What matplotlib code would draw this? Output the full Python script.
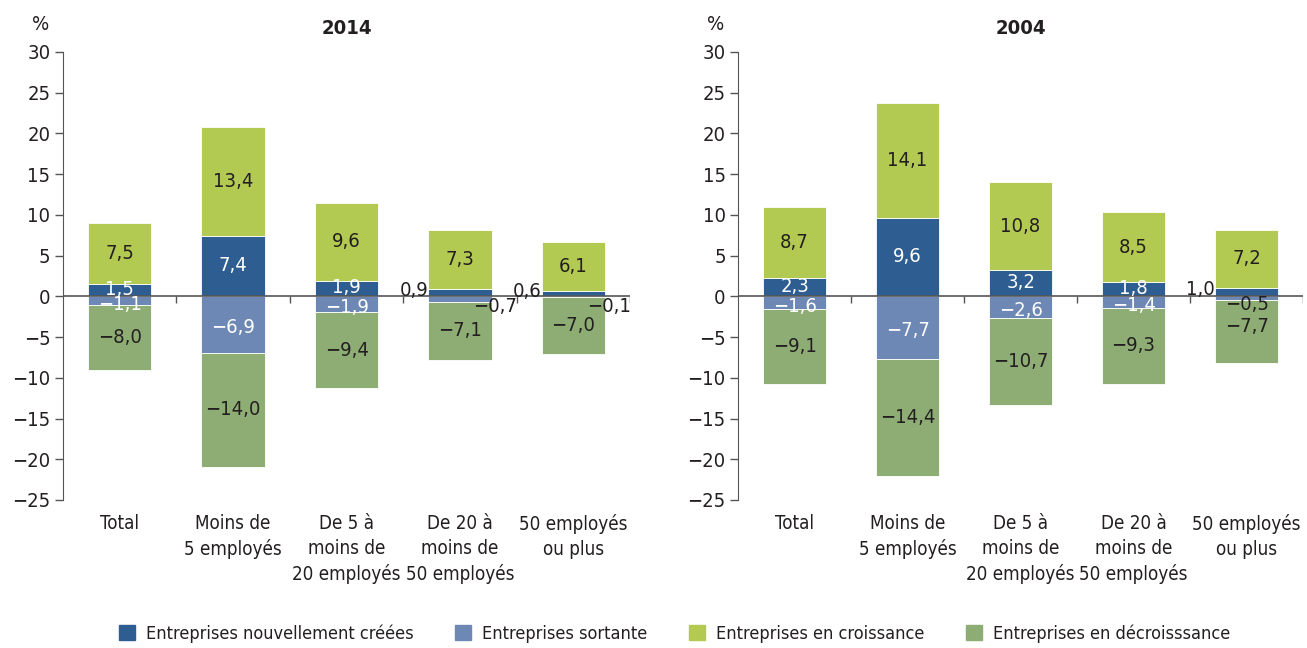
import matplotlib
matplotlib.use("Agg")
import matplotlib.pyplot as plt
import numpy as np
from matplotlib.patches import Patch

plt.rcParams["font.family"] = ["DejaVu Sans"]
plt.rcParams["font.stretch"] = "condensed"
plt.rcParams["axes.unicode_minus"] = True

categories = ["Total", "Moins de\n5 employés", "De 5 à\nmoins de\n20 employés",
              "De 20 à\nmoins de\n50 employés", "50 employés\nou plus"]
series_names = ["Entreprises nouvellement créées", "Entreprises sortante",
                "Entreprises en croissance", "Entreprises en décroisssance"]

new_2014 = [1.5, 7.4, 1.9, 0.9, 0.6]
exit_2014 = [-1.1, -6.9, -1.9, -0.7, -0.1]
grow_2014 = [7.5, 13.4, 9.6, 7.3, 6.1]
decl_2014 = [-8.0, -14.0, -9.4, -7.1, -7.0]

new_2004 = [2.3, 9.6, 3.2, 1.8, 1.0]
exit_2004 = [-1.6, -7.7, -2.6, -1.4, -0.5]
grow_2004 = [8.7, 14.1, 10.8, 8.5, 7.2]
decl_2004 = [-9.1, -14.4, -10.7, -9.3, -7.7]

colors = ["#2E5E91", "#6E88B5", "#B3CA52", "#8EAD74"]
text_col = "#231F20"
axis_col = "#555555"


def fmt(v):
    s = f"{v:.1f}".replace(".", ",")
    return s.replace("-", "\u2212")


def draw(ax, title, new, ext, grow, decl, small_exit_outside):
    x = np.arange(len(categories))
    w = 0.56
    new = np.array(new)
    ext = np.array(ext)
    grow = np.array(grow)
    decl = np.array(decl)
    kw = dict(width=w, edgecolor="white", linewidth=0.6, zorder=2)
    ax.bar(x, new, color=colors[0], **kw)
    ax.bar(x, grow, bottom=new, color=colors[2], **kw)
    ax.bar(x, ext, color=colors[1], **kw)
    ax.bar(x, decl, bottom=ext, color=colors[3], **kw)

    fs = 14.5
    for i in range(len(x)):
        # nouvelles entreprises
        if new[i] < 1.2:
            ax.text(x[i] - w / 2, new[i] / 2 + 0.3, fmt(new[i]), ha="right", va="center",
                    fontsize=fs, color=text_col, zorder=4)
        else:
            ax.text(x[i], new[i] / 2 + 0.1, fmt(new[i]), ha="center", va="center",
                    fontsize=fs, color="white", zorder=4)
        ax.text(x[i], new[i] + grow[i] / 2, fmt(grow[i]), ha="center", va="center",
                fontsize=fs, color=text_col, zorder=4)
        # sortantes
        dec_y = ext[i] + decl[i] / 2
        if abs(ext[i]) < 1.0:
            if small_exit_outside:
                ax.text(x[i] + w / 2 + 0.03, -1.3, fmt(ext[i]), ha="center",
                        va="center", fontsize=fs, color=text_col, zorder=4)
            else:
                ax.text(x[i], -1.0, fmt(ext[i]), ha="center", va="center",
                        fontsize=fs, color=text_col, zorder=4)
                dec_y += 0.6
        else:
            ax.text(x[i], ext[i] / 2 - 0.4, fmt(ext[i]), ha="center", va="center",
                    fontsize=fs, color="white", zorder=4)
        ax.text(x[i], dec_y, fmt(decl[i]), ha="center", va="center",
                fontsize=fs, color=text_col, zorder=4)

    ax.set_xlim(-0.5, len(categories) - 0.5)
    ax.set_ylim(-25, 30)
    ax.set_yticks(np.arange(-25, 31, 5))
    ax.set_yticklabels([fmt(v).replace(",0", "") for v in np.arange(-25, 31, 5)])
    ax.set_xticks(x)
    ax.set_xticklabels(categories, fontsize=13.5, color=text_col, linespacing=1.4)
    ax.tick_params(axis="x", length=0, pad=10)
    ax.tick_params(axis="y", length=6, width=1, color=axis_col, labelsize=14.5,
                   labelcolor=text_col, pad=3)
    for s in ["top", "right", "bottom"]:
        ax.spines[s].set_visible(False)
    ax.spines["left"].set_color(axis_col)
    ax.spines["left"].set_bounds(-25, 30)
    ax.axhline(0, color=axis_col, linewidth=1.2, zorder=3)
    ax.vlines(np.arange(len(categories)) + 0.5, -0.8, 0, color=axis_col,
              linewidth=1, zorder=3)
    ax.set_title(title, fontsize=14.5, fontweight="bold", color=text_col, pad=13)
    ax.text(-0.04, 1.04, "%", transform=ax.transAxes, fontsize=14.5,
            color=text_col, ha="center", va="bottom")


fig = plt.figure(figsize=(13.07, 6.48), dpi=100)
ax1 = fig.add_axes([0.0482, 0.2284, 0.434, 0.6914])
ax2 = fig.add_axes([0.5647, 0.2284, 0.4323, 0.6914])

draw(ax1, "2014", new_2014, exit_2014, grow_2014, decl_2014, True)
draw(ax2, "2004", new_2004, exit_2004, grow_2004, decl_2004, False)

handles = [Patch(color=c, label=n) for c, n in zip(colors, series_names)]
fig.legend(handles=handles, loc="center", bbox_to_anchor=(0.516, 0.022), ncol=4,
           frameon=False, fontsize=13, handlelength=0.9, handleheight=0.9,
           columnspacing=2.3, handletextpad=0.6, labelcolor=text_col)

fig.savefig("out.png", dpi=100)
